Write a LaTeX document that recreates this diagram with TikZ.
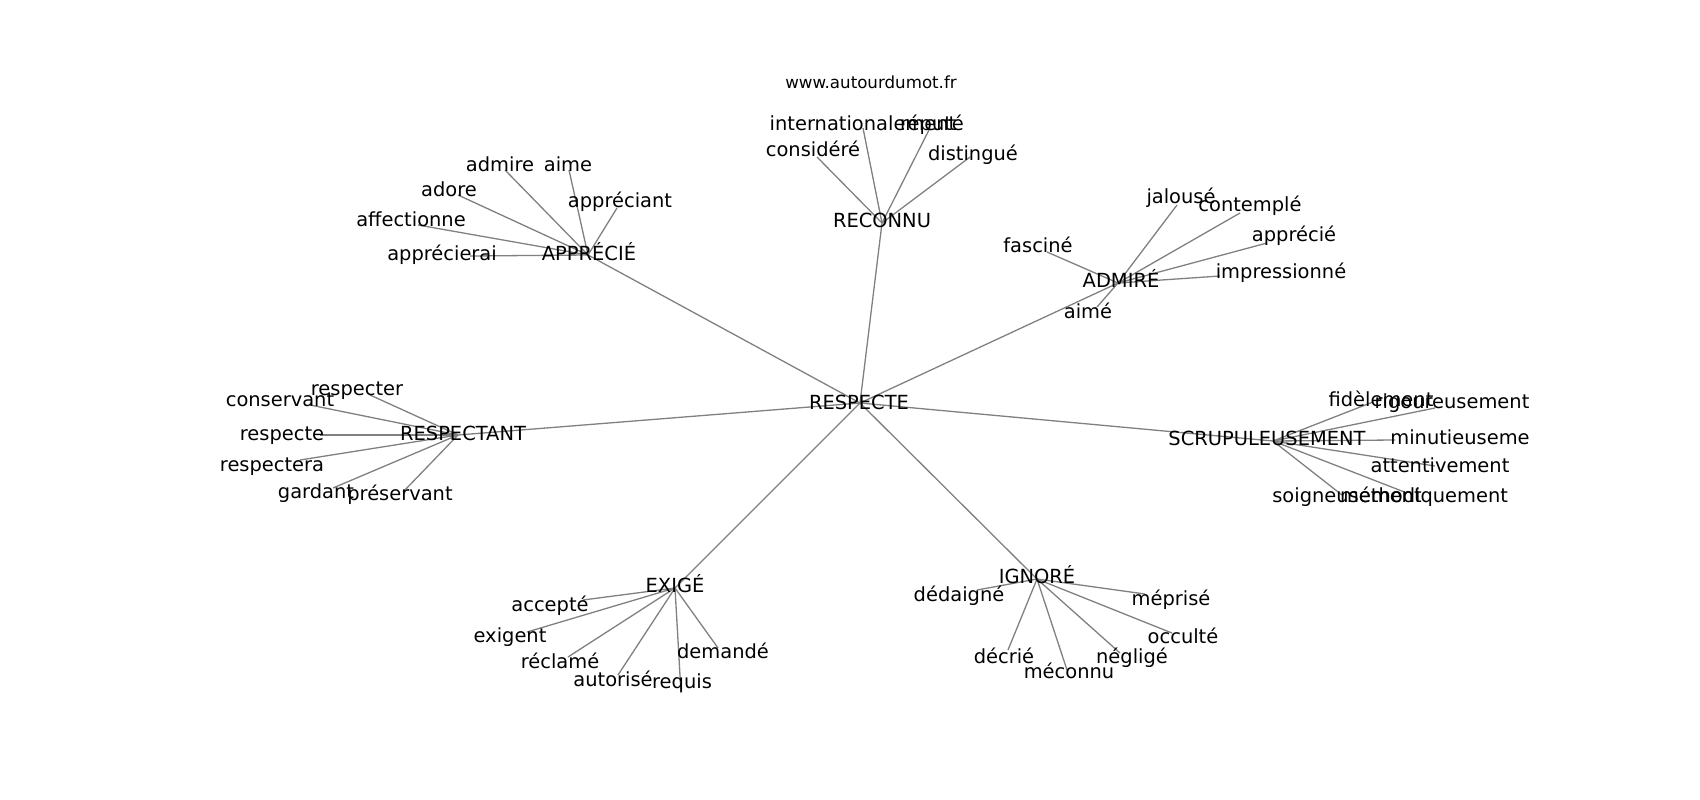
\documentclass[tikz,border=0pt]{standalone}
\usepackage{fontspec}
\setmainfont{DejaVu Sans}

\begin{document}
\begin{tikzpicture}
[x=1pt,y=-1pt]
\tikzset{word/.style={inner sep=0pt,text height=14.8pt,text depth=4.1pt,font=\fontsize{19.44}{23}\selectfont}}
\tikzset{link/.style={draw=black!50,line width=1.3pt}}
\useasboundingbox (0,0) rectangle (1700,800);

\coordinate (n0) at (860,403);
\coordinate (n1) at (882,223);
\coordinate (n2) at (588,255);
\coordinate (n3) at (1118,283);
\coordinate (n4) at (458,435);
\coordinate (n5) at (1273,441);
\coordinate (n6) at (675,588);
\coordinate (n7) at (1037,579);
\coordinate (n8) at (863,128);
\coordinate (n9) at (930,128);
\coordinate (n10) at (817,157);
\coordinate (n11) at (970,157);
\coordinate (n12) at (505,170);
\coordinate (n13) at (569,170);
\coordinate (n14) at (458,195);
\coordinate (n15) at (617,208);
\coordinate (n16) at (418,225);
\coordinate (n17) at (470,256);
\coordinate (n18) at (1177,205);
\coordinate (n19) at (1240,213);
\coordinate (n20) at (1267,243);
\coordinate (n21) at (1220,276);
\coordinate (n22) at (1047,252);
\coordinate (n23) at (1097,307);
\coordinate (n24) at (370,395);
\coordinate (n25) at (310,405);
\coordinate (n26) at (320,435);
\coordinate (n27) at (300,460);
\coordinate (n28) at (333,488);
\coordinate (n29) at (403,492);
\coordinate (n30) at (1373,402);
\coordinate (n31) at (1435,408);
\coordinate (n32) at (1395,440);
\coordinate (n33) at (1435,466);
\coordinate (n34) at (1342,495);
\coordinate (n35) at (1407,493);
\coordinate (n36) at (583,600);
\coordinate (n37) at (527,632);
\coordinate (n38) at (568,657);
\coordinate (n39) at (618,675);
\coordinate (n40) at (681,693);
\coordinate (n41) at (718,648);
\coordinate (n42) at (977,590);
\coordinate (n43) at (1145,594);
\coordinate (n44) at (1172,633);
\coordinate (n45) at (1008,650);
\coordinate (n46) at (1067,670);
\coordinate (n47) at (1120,653);

\foreach \to in {1,...,7}
	\draw[link] (n0) -- (n\to);
\foreach \from/\first/\last in {1/8/11,2/12/17,3/18/23,4/24/29,5/30/35,6/36/41,7/42/47}
	\foreach \to in {\first,...,\last}
		\draw[link] (n\from) -- (n\to);

\node [word,text height=12.7pt,text depth=3.5pt,font=\fontsize{16.67}{20}\selectfont] (title) at (871,84) {www.autourdumot.fr};

\node [word] (t0) at (859,404) {RESPECTE};
\node [word] (t1) at (882,222) {RECONNU};
\node [word] (t2) at (589,255) {APPRÉCIÉ};
\node [word] (t3) at (1121,282) {ADMIRÉ};
\node [word] (t4) at (463,435) {RESPECTANT};
\node [word] (t5) at (1267,440) {SCRUPULEUSEMENT};
\node [word] (t6) at (675,587) {EXIGÉ};
\node [word] (t7) at (1037,578) {IGNORÉ};

\node [word] (t8) at (863,125) {internationalement};
\node [word] (t9) at (932,125) {réputé};
\node [word] (t10) at (813,151) {considéré};
\node [word] (t11) at (973,155) {distingué};

\node [word] (t12) at (500,166) {admire};
\node [word] (t13) at (568,166) {aime};
\node [word] (t14) at (449,191) {adore};
\node [word] (t15) at (620,202) {appréciant};
\node [word] (t16) at (411,221) {affectionne};
\node [word] (t17) at (442,255) {apprécierai};

\node [word] (t18) at (1181,198) {jalousé};
\node [word] (t19) at (1250,206) {contemplé};
\node [word] (t20) at (1294,236) {apprécié};
\node [word] (t21) at (1281,273) {impressionné};
\node [word] (t22) at (1038,247) {fasciné};
\node [word] (t23) at (1088,313) {aimé};

\node [word] (t24) at (357,390) {respecter};
\node [word] (t25) at (280,401) {conservant};
\node [word] (t26) at (282,435) {respecte};
\node [word] (t27) at (272,466) {respectera};
\node [word] (t28) at (316,493) {gardant};
\node [word] (t29) at (400,495) {préservant};

\node [word] (t30) at (1381,401) {fidèlement};
\node [word] (t31) at (1452,403) {rigoureusement};
\node [word] (t32) at (1460,439) {minutieuseme};
\node [word] (t33) at (1440,467) {attentivement};
\node [word] (t34) at (1347,497) {soigneusement};
\node [word] (t35) at (1424,497) {méthodiquement};

\node [word] (t36) at (550,606) {accepté};
\node [word] (t37) at (510,637) {exigent};
\node [word] (t38) at (560,663) {réclamé};
\node [word] (t39) at (613,681) {autorisé};
\node [word] (t40) at (682,683) {requis};
\node [word] (t41) at (723,653) {demandé};

\node [word] (t42) at (959,596) {dédaigné};
\node [word] (t43) at (1171,600) {méprisé};
\node [word] (t44) at (1183,638) {occulté};
\node [word] (t45) at (1004,658) {décrié};
\node [word] (t46) at (1069,673) {méconnu};
\node [word] (t47) at (1132,658) {négligé};

\end{tikzpicture}
\end{document}
